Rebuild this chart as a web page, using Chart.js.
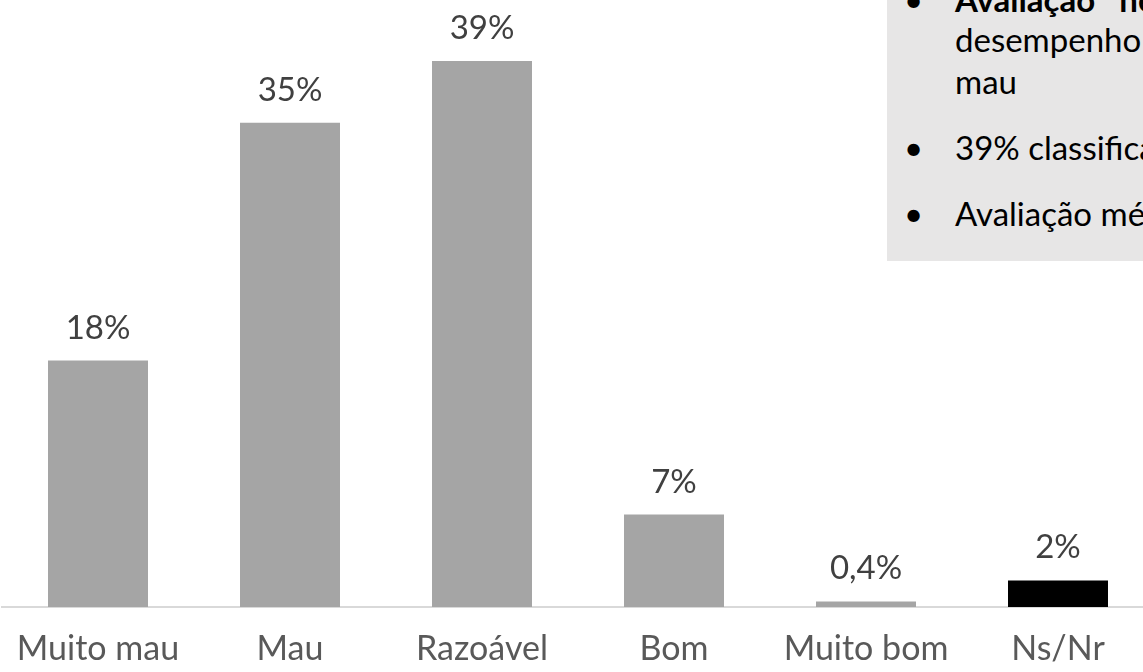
<!DOCTYPE html>
<html>
<head>
<meta charset="utf-8">
<script src="https://cdn.jsdelivr.net/npm/chart.js@4/dist/chart.umd.min.js"></script>
<style>
  html, body { margin: 0; padding: 0; background: #ffffff; overflow: hidden; width: 1143px; height: 672px; }
  #wrap { position: absolute; left: 0; top: 0; width: 1156px; height: 672px; }
  #box { position: absolute; left: 887px; top: -40px; width: 400px; height: 301px; background: #E7E6E6; font-family: Lato, "Open Sans", sans-serif; font-size: 33px; color: #000; }
  .ln { position: absolute; left: 68px; white-space: nowrap; line-height: 1; }
  .bul { position: absolute; left: 17px; line-height: 1; }
</style>
</head>
<body>
<div id="wrap"><canvas id="c" width="1156" height="672"></canvas></div>
<div id="box">
  <div class="bul" style="top:23px">•</div>
  <div class="ln" style="top:23px;font-weight:bold">Avaliação&nbsp;&nbsp;&nbsp;negativa</div>
  <div class="ln" style="top:63px">desempenho</div>
  <div class="ln" style="top:105px">mau</div>
  <div class="bul" style="top:171px">•</div>
  <div class="ln" style="top:171px">39% classificam</div>
  <div class="bul" style="top:237px">•</div>
  <div class="ln" style="top:237px">Avaliação média</div>
</div>
<script>
const categories = ['Muito mau', 'Mau', 'Razoável', 'Bom', 'Muito bom', 'Ns/Nr'];
const values = [17.6, 34.6, 39.0, 6.6, 0.4, 1.9];
const valueLabels = ['18%', '35%', '39%', '7%', '0,4%', '2%'];
const barColors = ['#A5A5A5', '#A5A5A5', '#A5A5A5', '#A5A5A5', '#A5A5A5', '#000000'];

const FONT = 'Lato, "Open Sans", sans-serif';

const dataLabelPlugin = {
  id: 'dataLabels',
  afterDatasetsDraw(chart) {
    const ctx = chart.ctx;
    const meta = chart.getDatasetMeta(0);
    ctx.save();
    ctx.font = '33px ' + FONT;
    ctx.fillStyle = '#404040';
    ctx.textAlign = 'center';
    ctx.textBaseline = 'alphabetic';
    meta.data.forEach((bar, i) => {
      ctx.fillText(valueLabels[i], bar.x, bar.y - 22);
    });
    ctx.restore();
  }
};

new Chart(document.getElementById('c'), {
  type: 'bar',
  data: {
    labels: categories,
    datasets: [{
      data: values,
      backgroundColor: barColors,
      borderWidth: 0,
      categoryPercentage: 1,
      barPercentage: 0.5208
    }]
  },
  options: {
    responsive: false,
    animation: false,
    events: [],
    layout: { padding: { left: 2, right: 2, top: 0, bottom: 0 } },
    plugins: { legend: { display: false }, tooltip: { enabled: false } },
    scales: {
      x: {
        grid: { display: false, drawTicks: false },
        border: { display: true, color: '#D9D9D9', width: 2 },
        ticks: { color: '#595959', font: { family: FONT, size: 34 }, padding: 22, maxRotation: 0, autoSkip: false },
        afterFit(scale) { scale.height = 65; scale.paddingLeft = 0; scale.paddingRight = 0; }
      },
      y: {
        display: false,
        min: 0,
        max: 43.36
      }
    }
  },
  plugins: [dataLabelPlugin]
});
</script>
</body>
</html>
